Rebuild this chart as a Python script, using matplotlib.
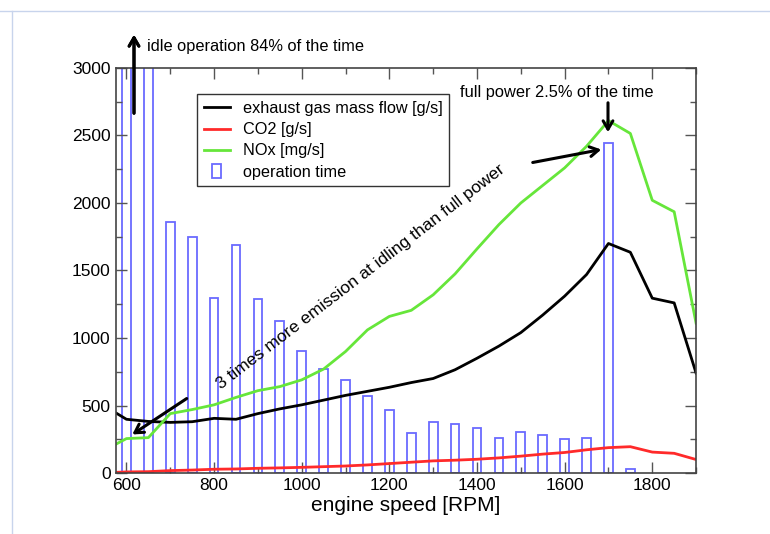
import matplotlib
matplotlib.use("Agg")
import matplotlib.pyplot as plt
from matplotlib.ticker import MultipleLocator
from matplotlib.lines import Line2D
from matplotlib.patches import Rectangle
from matplotlib.legend_handler import HandlerPatch

plt.rcParams['font.family'] = ['Liberation Sans', 'DejaVu Sans']

# operation time histogram
bar_rpm = [600, 650, 700, 750, 800, 850, 900, 950, 1000, 1050, 1100, 1150,
           1200, 1250, 1300, 1350, 1400, 1450, 1500, 1550, 1600, 1650, 1700, 1750]
operation_time = [42000, 40000, 1860, 1750, 1300, 1690, 1290, 1125, 905, 770, 688, 568,
                  467, 294, 378, 365, 333, 258, 301, 279, 249, 259, 2447, 27]

# curves
rpm = [575, 600, 650, 700, 750, 800, 850, 900, 950, 1000, 1050, 1100, 1150, 1200,
       1250, 1300, 1350, 1400, 1450, 1500, 1550, 1600, 1650, 1700, 1750, 1800, 1850, 1900]
exhaust = [447, 398, 382, 375, 380, 405, 398, 440, 475, 505, 540, 575, 605, 635,
           670, 700, 765, 850, 940, 1040, 1170, 1310, 1470, 1700, 1635, 1295, 1260, 740]
co2 = [5, 8, 10, 18, 22, 28, 30, 35, 38, 42, 47, 52, 60, 70,
       80, 90, 95, 102, 112, 125, 140, 152, 172, 188, 195, 155, 146, 100]
nox = [212, 255, 262, 440, 470, 505, 560, 610, 640, 690, 770, 900, 1060, 1160,
       1205, 1320, 1475, 1660, 1840, 2000, 2130, 2260, 2420, 2610, 2515, 2020, 1935, 1110]

fig = plt.figure(figsize=(7.7, 5.34), dpi=100)
ax = fig.add_axes([0.150, 0.1142, 0.754, 0.7585])

bar_color = '#6a6aff'
ax.bar(bar_rpm, operation_time, width=20, facecolor='none', edgecolor=bar_color, linewidth=1.3)
ax.plot(rpm, exhaust, color='black', lw=2)
ax.plot(rpm, co2, color='#ff2a2a', lw=2)
ax.plot(rpm, nox, color='#66e63a', lw=2)

ax.set_xlim(575, 1900)
ax.set_ylim(0, 3000)
ax.xaxis.set_major_locator(MultipleLocator(200))
ax.xaxis.set_minor_locator(MultipleLocator(100))
ax.yaxis.set_major_locator(MultipleLocator(500))
ax.yaxis.set_minor_locator(MultipleLocator(250))
ax.tick_params(which='both', direction='in', top=True, right=True, labelsize=12.5, colors='black')
ax.tick_params(which='major', length=8, width=1, color='#555555')
ax.tick_params(which='minor', length=4, width=1, color='#555555')
for s in ax.spines.values():
    s.set_color('#444444')
    s.set_linewidth(1.2)
ax.set_xlabel('engine speed [RPM]', fontsize=15, labelpad=2)


class NarrowBox(HandlerPatch):
    def create_artists(self, legend, orig_handle, xdescent, ydescent, width, height, fontsize, trans):
        w, h = 6.5, 9.5
        cx = -xdescent + width / 2
        cy = -ydescent + height / 2
        p = Rectangle((cx - w / 2, cy - h / 2), w, h, facecolor='none',
                      edgecolor=bar_color, linewidth=1.3, transform=trans)
        return [p]


box_handle = Rectangle((0, 0), 1, 1, facecolor='none', edgecolor=bar_color)
handles = [Line2D([], [], color='black', lw=2),
           Line2D([], [], color='#ff2a2a', lw=2),
           Line2D([], [], color='#66e63a', lw=2),
           box_handle]
labels = ['exhaust gas mass flow [g/s]', 'CO2 [g/s]', 'NOx [mg/s]', 'operation time']
leg = ax.legend(handles, labels, loc='upper left', bbox_to_anchor=(0.14, 0.935),
                fontsize=11.7, frameon=True, fancybox=False, framealpha=1,
                edgecolor='#333333', handlelength=1.6, borderpad=0.42, labelspacing=0.38,
                handletextpad=0.8, borderaxespad=0,
                handler_map={Rectangle: NarrowBox()})
leg.get_frame().set_linewidth(1)

# annotations (figure pixel coords -> figure fraction)
W, H = 770.0, 534.0
def fp(x, y):
    return (x / W, 1 - y / H)

arrowprops = dict(arrowstyle='->,head_length=0.6,head_width=0.35', lw=2.2, color='black')
fig.add_artist(plt.annotate('', xy=fp(134, 32), xytext=fp(134, 116), xycoords='figure fraction',
                            textcoords='figure fraction', arrowprops=arrowprops))
fig.text(*fp(147, 46), 'idle operation 84% of the time', fontsize=11.8, va='center', ha='left')

fig.text(*fp(557, 92), 'full power 2.5% of the time', fontsize=11.8, va='center', ha='center')
ax.annotate('', xy=fp(608, 135), xytext=fp(608, 100), xycoords='figure fraction',
            textcoords='figure fraction', arrowprops=arrowprops)
ax.annotate('', xy=fp(604, 149), xytext=fp(530, 163), xycoords='figure fraction',
            textcoords='figure fraction', arrowprops=arrowprops)
ax.annotate('', xy=fp(130, 436), xytext=fp(189, 397), xycoords='figure fraction',
            textcoords='figure fraction', arrowprops=arrowprops)

fig.text(*fp(361, 277), '3 times more emission at idling than full power', fontsize=12.6,
         rotation=37.5, rotation_mode='anchor', ha='center', va='center')

# faint page border lines
fig.add_artist(Line2D([0, 1], [1 - 11 / H, 1 - 11 / H], color='#c8d4ec', lw=1))
fig.add_artist(Line2D([12 / W, 12 / W], [0, 1 - 11 / H], color='#c8d4ec', lw=1))

fig.savefig('out.png', dpi=100)
